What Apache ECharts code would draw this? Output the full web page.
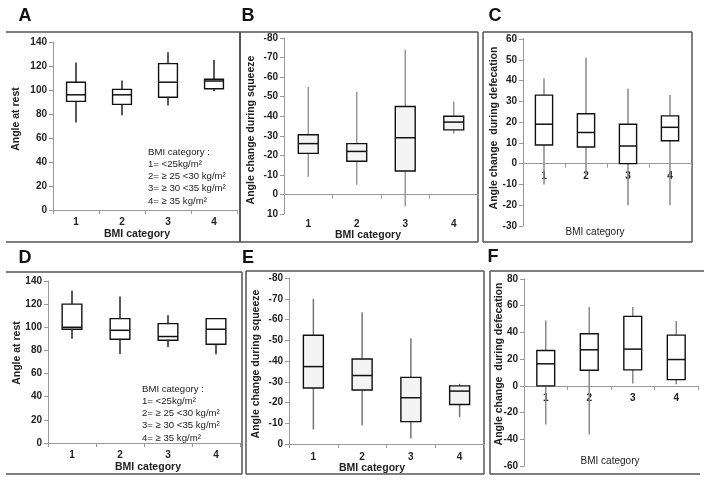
<!DOCTYPE html>
<html><head><meta charset="utf-8">
<script src="https://cdn.jsdelivr.net/npm/echarts@6/dist/echarts.min.js"></script>
<style>html,body{margin:0;padding:0;background:#fff}#c{width:704px;height:482px}</style>
</head><body><div id="c"></div>
<script>
const categories = ['1', '2', '3', '4'];
// each box: [lower whisker, Q1, median, Q3, upper whisker]
const restA    = [[73, 90.5, 96, 106.5, 123], [79, 88, 96, 100.5, 108], [87, 94, 106.5, 122, 131.5], [99, 101, 107.5, 109, 125]];
const squeezeB = [[-9, -21, -26, -30.5, -55], [-5, -17, -22, -26, -52.5], [6, -12, -29, -45, -74], [-31, -33, -37, -40, -47.5]];
const defecC   = [[-10, 9, 19, 33, 41], [-6, 8, 15, 24, 51], [-20, 0, 8.5, 19, 36], [-20, 11, 17.5, 23, 33]];
const restD    = [[90, 98.3, 100, 120, 131.5], [77, 89.7, 97.4, 107.5, 126.5], [83, 88.8, 92, 103.2, 110.4], [76.7, 85.4, 98.3, 107.5, 107.5]];
const squeezeE = [[-7, -27, -37.3, -52.4, -70], [-9, -26, -33, -41, -63.5], [-2.7, -10.8, -22.3, -32.1, -51], [-13, -19, -25.5, -28, -29]];
const defecF   = [[-29, 0, 16.5, 26.5, 49], [-36.5, 11.7, 27, 39, 59], [1.7, 12, 27.5, 52, 59], [1.2, 4.7, 19.7, 38, 48.5]];

const yTitleRest = 'Angle at rest';
const yTitleSqueeze = 'Angle change during squeeze';
const yTitleDefec = 'Angle change  during defecation';
const xTitle = 'BMI category';
const legendLines = ['BMI category :', '1= <25kg/m²', '2= ≥ 25 <30 kg/m²', '3= ≥ 30 <35 kg/m²', '4= ≥ 35 kg/m²'];
const panelLetters = ['A', 'B', 'C', 'D', 'E', 'F'];

const FONT = '"Liberation Sans", Arial, sans-serif';

const grids = [
  {left: 53,  top: 42,  width: 184, height: 168},
  {left: 284, top: 38,  width: 194, height: 176},
  {left: 523, top: 39,  width: 168, height: 187},
  {left: 48,  top: 281, width: 192, height: 162},
  {left: 289, top: 278, width: 195, height: 166},
  {left: 524, top: 279, width: 174, height: 187}
];
const yCfg = [
  {min: 0, max: 140, interval: 20, inverse: false},
  {min: -80, max: 10, interval: 10, inverse: true},
  {min: -30, max: 60, interval: 10, inverse: false},
  {min: 0, max: 140, interval: 20, inverse: false},
  {min: -80, max: 0, interval: 10, inverse: true},
  {min: -60, max: 80, interval: 20, inverse: false}
];
// where the category labels sit: 'bottom' of the plot or just under the zero line
const labelPlace = ['bottom', 'bottom', 'zero', 'bottom', 'bottom', 'zero'];
const panelData = [restA, squeezeB, defecC, restD, squeezeE, defecF];
const whiskerColor = ['#222', '#999', '#8a8a8a', '#222', '#777', '#8a8a8a'];
const boxFill = ['#fff', '#f4f4f4', '#fff', '#fff', '#f4f4f4', '#fff'];
const xLabelMargin = [7, 5, 8, 7, 8, 7];

const axisLabelStyle = {color: '#222', fontWeight: 'bold', fontSize: 10, fontFamily: FONT};

const xAxes = [], yAxes = [], series = [], seriesXAxis = [];
grids.forEach((g, i) => {
  const c = yCfg[i];
  seriesXAxis.push(xAxes.length);
  xAxes.push({
    gridIndex: i, type: 'category', data: categories, position: 'bottom',
    axisLine: {show: true, onZero: true, lineStyle: {color: '#999', width: 1}},
    axisTick: {show: true, length: 4, lineStyle: {color: '#999'}},
    axisLabel: {show: false}
  });
  let off = 0;
  if (labelPlace[i] === 'zero') {
    const frac = c.inverse ? (c.max - 0) / (c.max - c.min) : (0 - c.min) / (c.max - c.min);
    off = -frac * g.height;
  }
  xAxes.push({
    gridIndex: i, type: 'category', data: categories, position: 'bottom', offset: off,
    axisLine: {show: false, onZero: false}, axisTick: {show: false},
    axisLabel: Object.assign({show: true, margin: xLabelMargin[i]}, axisLabelStyle)
  });
  yAxes.push({
    gridIndex: i, type: 'value', min: c.min, max: c.max, interval: c.interval,
    inverse: c.inverse, splitLine: {show: false},
    axisLine: {show: true, lineStyle: {color: '#999', width: 1}},
    axisTick: {show: true, length: 4, lineStyle: {color: '#999'}},
    axisLabel: Object.assign({margin: 6}, axisLabelStyle)
  });
});

function boxRenderer(wc, fill) {
  return function (params, api) {
    const idx = api.value(0);
    const p = [1, 2, 3, 4, 5].map(k => api.coord([idx, api.value(k)]));
    const x = p[0][0];
    const w = api.size([1, 0])[0] * 0.41;
    const top = Math.min(p[1][1], p[3][1]);
    const h = Math.abs(p[1][1] - p[3][1]);
    return {type: 'group', children: [
      {type: 'line', shape: {x1: x, y1: p[0][1], x2: x, y2: p[4][1]}, style: {stroke: wc, lineWidth: 1.5}},
      {type: 'rect', shape: {x: x - w / 2, y: top, width: w, height: h}, style: {fill: fill, stroke: '#111', lineWidth: 1.4}},
      {type: 'line', shape: {x1: x - w / 2, y1: p[2][1], x2: x + w / 2, y2: p[2][1]}, style: {stroke: '#111', lineWidth: 1.5}}
    ]};
  };
}

panelData.forEach((arr, i) => {
  series.push({
    type: 'custom', xAxisIndex: seriesXAxis[i], yAxisIndex: i,
    renderItem: boxRenderer(whiskerColor[i], boxFill[i]),
    encode: {x: 0, y: [1, 2, 3, 4, 5]},
    data: arr.map((v, k) => [k].concat(v))
  });
});

const frameColor = '#555';
function seg(x1, y1, x2, y2, w) {
  return {type: 'line', shape: {x1, y1, x2, y2}, style: {stroke: frameColor, lineWidth: w || 1.5}, silent: true};
}
const graphics = [
  seg(6, 32, 240, 32), seg(6, 242, 240, 242),
  seg(240, 32, 240, 242, 2), seg(240, 32, 478, 32), seg(478, 32, 478, 242), seg(240, 242, 478, 242),
  seg(483, 32, 692, 32), seg(483, 32, 483, 242), seg(692, 32, 692, 242), seg(483, 242, 692, 242),
  seg(6, 272, 242, 272), seg(242, 272, 242, 474), seg(6, 474, 242, 474),
  seg(246, 271, 484, 271), seg(246, 271, 246, 474), seg(484, 271, 484, 474), seg(246, 474, 484, 474),
  seg(490, 271, 704, 271), seg(490, 271, 490, 474), seg(490, 474, 700, 474)
];
const letterPos = [[25, 16], [248, 16], [495, 16], [25, 258], [248, 258], [493, 257]];
panelLetters.forEach((t, i) => {
  graphics.push({type: 'text', x: letterPos[i][0], y: letterPos[i][1],
    style: {text: t, fontSize: 18, fontWeight: 'bold', fontFamily: FONT, fill: '#111', align: 'center', verticalAlign: 'middle'}});
});
const yTitles = [yTitleRest, yTitleSqueeze, yTitleDefec, yTitleRest, yTitleSqueeze, yTitleDefec];
const yTitlePos = [[16, 119], [251, 130], [494, 128], [17, 353], [256, 364], [499, 364]];
yTitles.forEach((t, i) => {
  graphics.push({type: 'text', x: yTitlePos[i][0], y: yTitlePos[i][1], rotation: Math.PI / 2,
    style: {text: t, fontSize: 10.5, fontWeight: 'bold', fontFamily: FONT, fill: '#222', align: 'center', verticalAlign: 'middle'}});
});
const xTitlePos = [[137, 234, 'bold'], [368, 235, 'bold'], [595, 232, 'normal'], [148, 467, 'bold'], [372, 468, 'bold'], [610, 461, 'normal']];
xTitlePos.forEach(p => {
  graphics.push({type: 'text', x: p[0], y: p[1],
    style: {text: xTitle, fontSize: p[2] === 'bold' ? 10.5 : 10, fontWeight: p[2], fontFamily: FONT, fill: '#222', align: 'center', verticalAlign: 'middle'}});
});
[[148, 146], [142, 383]].forEach(p => {
  graphics.push({type: 'text', x: p[0], y: p[1],
    style: {text: legendLines.join('\n'), fontSize: 9.6, lineHeight: 12.2, fontFamily: FONT, fill: '#222', align: 'left', verticalAlign: 'top'}});
});

const chart = echarts.init(document.getElementById('c'), null, {renderer: 'canvas'});
chart.setOption({
  animation: false,
  backgroundColor: '#fff',
  grid: grids,
  xAxis: xAxes,
  yAxis: yAxes,
  series: series,
  graphic: graphics
});
</script></body></html>
